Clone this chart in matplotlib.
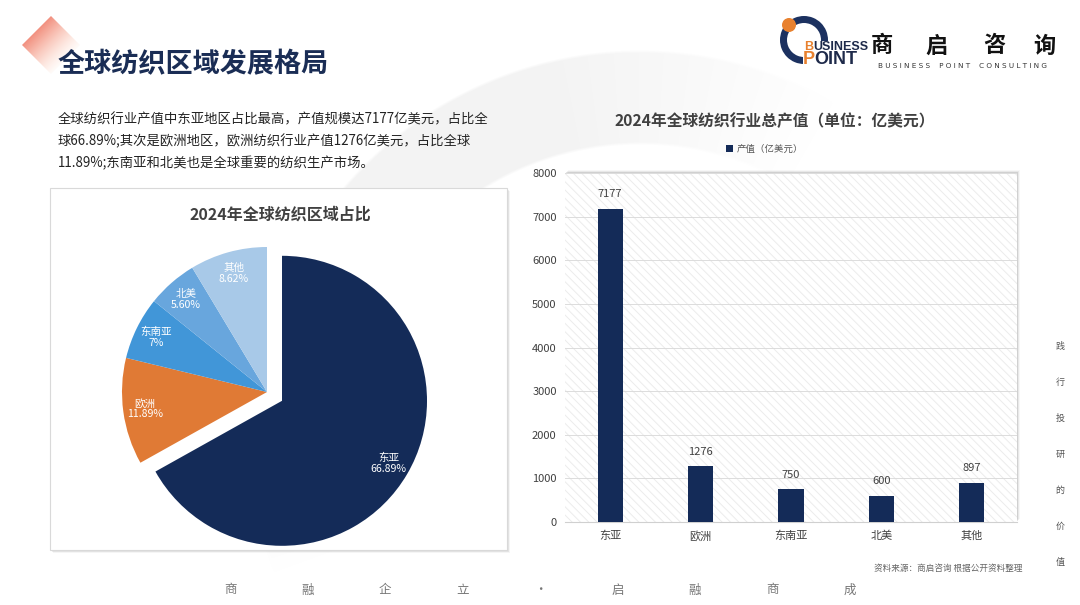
import numpy as np
import matplotlib
matplotlib.use("Agg")
import matplotlib.pyplot as plt
from matplotlib.patches import Rectangle, Polygon, Wedge, Circle

plt.rcParams['font.family'] = ['Noto Sans CJK SC', 'DejaVu Sans']
plt.rcParams['hatch.linewidth'] = 0.7

# 数据
regions = ["东亚", "欧洲", "东南亚", "北美", "其他"]
share = [66.89, 11.89, 7.0, 5.60, 8.62]
share_labels = ["66.89%", "11.89%", "7%", "5.60%", "8.62%"]
output = [7177, 1276, 750, 600, 897]
yticks = [0, 1000, 2000, 3000, 4000, 5000, 6000, 7000, 8000]

pie_colors = ["#142b58", "#e07a35", "#4196d8", "#68a6dd", "#a8c9e8"]
navy = "#142b58"

W, H = 1080, 605
fig = plt.figure(figsize=(W / 100, H / 100), dpi=100)
fig.patch.set_facecolor("white")

def px(l, t, r, b):
    # pixel box -> figure fraction
    return [l / W, (H - b) / H, (r - l) / W, (b - t) / H]

# 背景层
bg = fig.add_axes([0, 0, 1, 1])
bg.set_xlim(0, W)
bg.set_ylim(H, 0)
bg.axis("off")

# 淡灰色圆弧水印，两端渐隐
gx, gy = np.meshgrid(np.arange(W) + 0.5, np.arange(H) + 0.5)
rr = np.hypot(gx - 640, gy - 440)
phi = np.degrees(np.arctan2(440 - gy, gx - 640)) % 360
ring = np.clip((rr - 295) / 3, 0, 1) * np.clip((390 - rr) / 3, 0, 1)
fade = np.clip(np.minimum((phi - 60) / 45, (200 - phi) / 25), 0, 1)
wm = np.zeros((H, W, 4))
wm[..., :3] = 0.955
wm[..., 3] = ring * fade
bg.imshow(wm, extent=(0, W, H, 0), aspect="auto", zorder=0, interpolation="bilinear")

# 左上角渐变菱形
grad = np.zeros((100, 100, 4))
xx, yy = np.meshgrid(np.linspace(0, 1, 100), np.linspace(0, 1, 100))
t = np.clip((xx + yy) / 1.6, 0, 1)
grad[..., 0] = 0.91 + 0.09 * t
grad[..., 1] = 0.30 + 0.55 * t
grad[..., 2] = 0.22 + 0.55 * t
grad[..., 3] = 1 - t ** 1.5
diamond = Polygon([(22, 45), (51, 16), (80, 45), (51, 74)], closed=True,
                  transform=bg.transData, fc="none", ec="none")
bg.add_patch(diamond)
im = bg.imshow(grad, extent=(22, 80, 74, 16), aspect="auto", zorder=1)
im.set_clip_path(diamond)
bg.set_xlim(0, W)
bg.set_ylim(H, 0)

bg.text(58, 64, "全球纺织区域发展格局", fontsize=19.5, fontweight="bold",
        color="#1a2d55", va="center", ha="left", zorder=2)

para = ["全球纺织行业产值中东亚地区占比最高，产值规模达7177亿美元，占比全",
        "球66.89%;其次是欧洲地区，欧洲纺织行业产值1276亿美元，占比全球",
        "11.89%;东南亚和北美也是全球重要的纺织生产市场。"]
for i, line in enumerate(para):
    bg.text(58, 119 + i * 22, line, fontsize=9.6, color="#222222", va="center",
            ha="left", zorder=2)

# logo
bg.add_patch(Wedge((804, 40), 24, 0, 360, width=7, color="#1c3160", lw=0, zorder=2))
bg.add_patch(Rectangle((803, 41), 66, 30, color="white", lw=0, zorder=2))
bg.add_patch(Circle((789, 25), 7, color="#e8812f", lw=0, zorder=2))
bg.text(804, 47, "B", fontsize=9, fontweight="bold", color="#e8812f",
        family="Liberation Sans", va="center", ha="left", zorder=3)
bg.text(813.5, 47, "USINESS", fontsize=9, fontweight="bold", color="#1e2a4a",
        family="Liberation Sans", va="center", ha="left", zorder=3)
bg.text(803, 60, "P", fontsize=13, fontweight="bold", color="#e8812f",
        family="Liberation Sans", va="center", ha="left", zorder=3)
bg.text(814.5, 60, "OINT", fontsize=13, fontweight="bold", color="#1e2a4a",
        family="Liberation Sans", va="center", ha="left", zorder=3)
for ch, x in zip("商启咨询", [882, 937, 994, 1044]):
    bg.text(x, 46, ch, fontsize=16, fontweight="bold", color="#111111",
            va="center", ha="center", zorder=3)
bg.text(962, 66, "B U S I N E S S    P O I N T    C O N S U L T I N G", fontsize=5.2,
        color="#333333", va="center", ha="center", family="DejaVu Sans", zorder=3)

# 饼图外框
for k, a in enumerate([0.10, 0.07, 0.04]):
    bg.add_patch(Rectangle((50 + k + 1, 188 + k + 1), 457, 362,
                           fc="#000000", alpha=a, lw=0, zorder=1))
bg.add_patch(Rectangle((50, 188), 457, 362, fc="white", ec="#d9d9d9", lw=0.8, zorder=2))
bg.text(280, 215, "2024年全球纺织区域占比", fontsize=11.5, fontweight="bold",
        color="#404040", va="center", ha="center", zorder=3)

# 柱状图外框阴影
for k, a in enumerate([0.10, 0.06, 0.03]):
    bg.add_patch(Rectangle((565 + k + 1, 173 - k - 1), 452, 349,
                           fc="#000000", alpha=a, lw=0, zorder=1))

bg.text(1022, 568, "资料来源：商启咨询 根据公开资料整理", fontsize=6.2,
        color="#666666", va="center", ha="right", zorder=3)

motto = ["商", "融", "企", "立", "•", "启", "融", "商", "成"]
for ch, x in zip(motto, np.linspace(230, 850, len(motto))):
    bg.text(x, 590, ch, fontsize=9, color="#777777", va="center", ha="center", zorder=3)

side = ["践", "行", "投", "研", "的", "价", "值"]
for ch, y in zip(side, np.linspace(347, 562, len(side))):
    bg.text(1060, y, ch, fontsize=6.5, color="#555555", va="center", ha="center", zorder=3)

# 饼图
r_px = 145
lim = 1.3
half = r_px * lim
pax = fig.add_axes(px(267 - half, 392 - half, 267 + half, 392 + half))
lab_iter = iter([f"{n}\n{s}" for n, s in zip(regions, share_labels)])
pax.pie(share, colors=pie_colors, startangle=90, counterclock=False,
        explode=[0.12, 0, 0, 0, 0], autopct=lambda p: next(lab_iter),
        pctdistance=0.85, wedgeprops=dict(lw=0),
        textprops=dict(color="white", fontsize=7.6, linespacing=1.1))
pax.set_xlim(-lim, lim)
pax.set_ylim(-lim, lim)
pax.set_aspect("equal")
pax.axis("off")

# 柱状图
ax = fig.add_axes(px(565, 173, 1017, 522))
ax.set_facecolor("white")
ax.add_patch(Rectangle((0, 0), 1, 1, transform=ax.transAxes, fc="white",
                       hatch="\\\\\\\\", ec="#ececec", lw=0, zorder=0))
x = np.arange(len(regions))
bars = ax.bar(x, output, width=0.28, color=navy, zorder=3, label="产值（亿美元）")
ax.bar_label(bars, labels=[str(v) for v in output], padding=7, fontsize=8, color="#404040")
ax.set_xlim(-0.5, len(regions) - 0.5)
ax.set_ylim(0, 8000)
ax.set_yticks(yticks)
ax.set_xticks(x)
ax.set_xticklabels(regions)
ax.tick_params(axis="both", length=0, labelsize=8, colors="#404040")
ax.tick_params(axis="y", pad=6)
ax.tick_params(axis="x", pad=6)
ax.grid(axis="y", color="#dcdcdc", lw=0.7, zorder=1)
for s in ["top", "right", "left"]:
    ax.spines[s].set_visible(False)
ax.spines["bottom"].set_color("#d0d0d0")
ax.spines["bottom"].set_linewidth(0.8)

ax.text(0.465, 1.149, "2024年全球纺织行业总产值（单位：亿美元）", transform=ax.transAxes,
        fontsize=11.3, fontweight="bold", color="#404040", ha="center", va="center")
ax.legend(loc="center", bbox_to_anchor=(0.442, 1.069), frameon=False, fontsize=6.8,
          handlelength=0.7, handleheight=0.7, handletextpad=0.4, labelcolor="#555555")

fig.savefig("out.png", dpi=100, facecolor="white")
